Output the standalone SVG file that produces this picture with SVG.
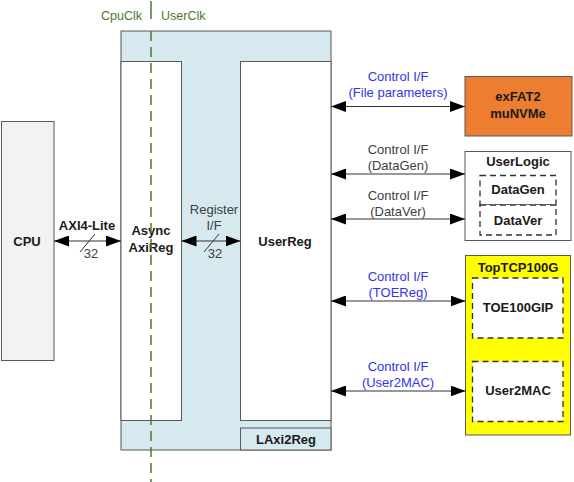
<svg xmlns="http://www.w3.org/2000/svg" width="574" height="482" viewBox="0 0 574 482">
<defs>
<marker id="ah" viewBox="0 0 15 11" refX="15" refY="5.5" markerWidth="15" markerHeight="11" markerUnits="userSpaceOnUse" orient="auto-start-reverse">
<path d="M0,0 L15,5.5 L0,11 Z" fill="#000"/>
</marker>
<style>
text{font-family:"Liberation Sans",Arial,sans-serif;font-size:13px;text-anchor:middle}
.b{font-weight:bold;fill:#1a1a1a}
.g{fill:#404040}
.bl{fill:#3333ee}
.clk{fill:#4f7a28;font-size:12.5px}
.box{stroke:#595959;stroke-width:1}
.dash{fill:#fff;stroke:#333;stroke-width:1.3;stroke-dasharray:6,4}
.con{stroke:#333;stroke-width:1.2;fill:none;marker-start:url(#ah);marker-end:url(#ah)}
</style>
</defs>
<rect width="574" height="482" fill="#fff"/>
<g id="LAxi2Reg">
<rect class="box" x="121" y="31" width="210" height="419" fill="#d5e9ef"/>
<rect class="box" x="240.5" y="428" width="90.5" height="22" fill="#d5e9ef"/>
<text class="b" x="286" y="444">LAxi2Reg</text>
</g>
<g id="AsyncAxiReg">
<rect class="box" x="121" y="61.5" width="60.5" height="359" fill="#fff"/>
<text class="b" x="151" y="235">Async</text>
<text class="b" x="151" y="252">AxiReg</text>
</g>
<g id="UserReg">
<rect class="box" x="240.5" y="61.5" width="90.5" height="359" fill="#fff"/>
<text class="b" x="285" y="246">UserReg</text>
</g>
<g id="CPU">
<rect class="box" x="1.5" y="121.5" width="52.5" height="239" fill="#f2f2f2"/>
<text class="b" x="27" y="246">CPU</text>
</g>
<g id="exFAT2">
<rect class="box" x="465" y="76.5" width="107" height="59.5" fill="#ed7d31"/>
<text class="b" x="518" y="101">exFAT2</text>
<text class="b" x="518" y="118">muNVMe</text>
</g>
<g id="UserLogic">
<rect class="box" x="465" y="151.5" width="106" height="89" fill="#fff"/>
<text class="b" x="518" y="166">UserLogic</text>
<rect class="dash" x="480" y="175.5" width="76" height="29.5"/>
<rect class="dash" x="480" y="205" width="76" height="30"/>
<text class="b" x="518" y="194">DataGen</text>
<text class="b" x="518" y="225">DataVer</text>
</g>
<g id="TopTCP100G">
<rect class="box" x="465.5" y="255.5" width="105" height="179.5" fill="#ffff00"/>
<text class="b" x="518" y="272">TopTCP100G</text>
<rect class="dash" x="472.5" y="278" width="90.5" height="60"/>
<text class="b" x="518" y="312">TOE100GIP</text>
<rect class="dash" x="472.5" y="361.5" width="90.5" height="60"/>
<text class="b" x="518" y="395">User2MAC</text>
</g>
<g id="connectors">
<line class="con" x1="54" y1="241" x2="121" y2="241"/>
<line x1="80" y1="252" x2="95" y2="234" stroke="#333" stroke-width="1"/>
<text class="b" x="87" y="230">AXI4-Lite</text>
<text class="g" x="91" y="258">32</text>
<line class="con" x1="181.5" y1="241" x2="240.5" y2="241"/>
<line x1="204" y1="252" x2="219" y2="234" stroke="#333" stroke-width="1"/>
<text class="g" x="214" y="214">Register</text>
<text class="g" x="214" y="230">I/F</text>
<text class="g" x="215" y="258">32</text>
<line class="con" x1="331" y1="106.5" x2="465" y2="106.5"/>
<text class="bl" x="398" y="81">Control I/F</text>
<text class="bl" x="398" y="97">(File parameters)</text>
<line class="con" x1="331" y1="174" x2="465" y2="174"/>
<text class="g" x="398" y="154">Control I/F</text>
<text class="g" x="398" y="170">(DataGen)</text>
<line class="con" x1="331" y1="219" x2="465" y2="219"/>
<text class="g" x="398" y="200">Control I/F</text>
<text class="g" x="398" y="216">(DataVer)</text>
<line class="con" x1="331" y1="301" x2="465.5" y2="301"/>
<text class="bl" x="398" y="281">Control I/F</text>
<text class="bl" x="398" y="297">(TOEReg)</text>
<line class="con" x1="331" y1="391" x2="465.5" y2="391"/>
<text class="bl" x="398" y="371">Control I/F</text>
<text class="bl" x="398" y="387">(User2MAC)</text>
</g>
<g id="clock">
<line x1="151" y1="1" x2="151" y2="19" stroke="#4f7a28" stroke-width="1.5"/>
<line x1="151" y1="31" x2="151" y2="482" stroke="#4f7a28" stroke-width="1.5" stroke-dasharray="10,6"/>
<text class="clk" x="142" y="20" style="text-anchor:end">CpuClk</text>
<text class="clk" x="161" y="20" style="text-anchor:start">UserClk</text>
</g>
</svg>
